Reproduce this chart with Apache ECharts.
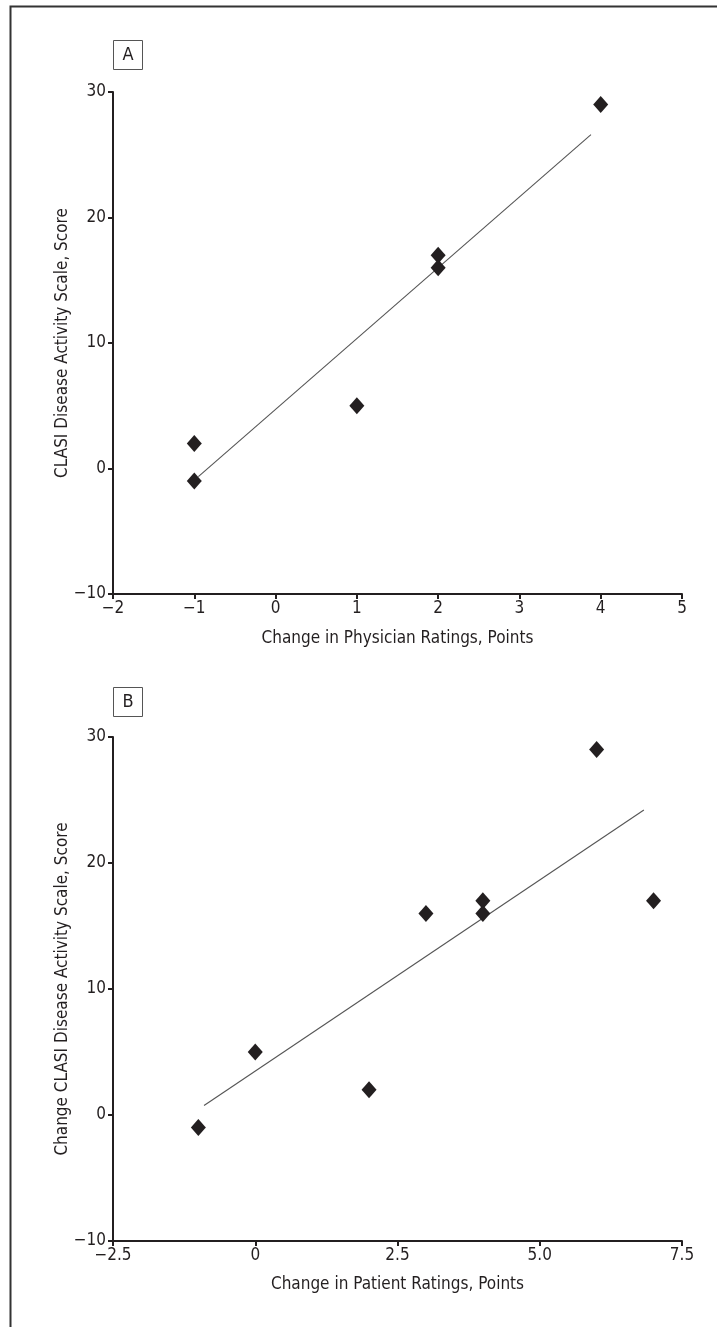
<!DOCTYPE html>
<html>
<head>
<meta charset="utf-8">
<script src="https://cdn.jsdelivr.net/npm/echarts@6/dist/echarts.min.js"></script>
<style>
  html, body { margin: 0; padding: 0; background: #fff; }
  #chart { width: 717px; height: 1327px; }
</style>
</head>
<body>
<div id="chart"></div>
<script>
// panel A: physician ratings vs CLASI
var physicianChange = [-1, -1, 1, 2, 2, 4];
var clasiA = [2, -1, 5, 17, 16, 29];
var fitA = [[-0.95, -0.65], [3.88, 26.6]];
var xTicksA = ['\u22122', '\u22121', '0', '1', '2', '3', '4', '5'];

// panel B: patient ratings vs CLASI change
var patientChange = [-1, 0, 2, 3, 4, 4, 6, 7];
var clasiB = [-1, 5, 2, 16, 17, 16, 29, 17];
var fitB = [[-0.9, 0.75], [6.83, 24.2]];
var xTicksB = ['\u22122.5', '0', '2.5', '5.0', '7.5'];

var yTicks = ['\u221210', '0', '10', '20', '30'];

(function(){
  var c = echarts.init(document.getElementById('chart'));
  var ink = '#231f20';
  var font = "'Liberation Sans Narrow', 'DejaVu Sans Condensed', 'Roboto Condensed', sans-serif";

  function pairs(xs, ys){ return xs.map(function(x, i){ return [x, ys[i]]; }); }

  function xAxis(idx, min, max, step, labels, name, gap){
    return {
      type: 'value', gridIndex: idx, min: min, max: max, interval: step,
      name: name, nameLocation: 'middle', nameGap: gap, nameMoveOverlap: false,
      nameTextStyle: {color: ink, fontFamily: font, fontSize: 17},
      axisLine: {show: true, onZero: false, lineStyle: {color: ink, width: 2}},
      axisTick: {show: true, length: 5, lineStyle: {color: ink, width: 2}},
      axisLabel: {color: ink, fontFamily: font, fontSize: 17, margin: 6,
        formatter: function(v){ return labels[Math.round((v - min) / step)]; }},
      splitLine: {show: false}
    };
  }
  function yAxis(idx, name){
    return {
      type: 'value', gridIndex: idx, min: -10, max: 30, interval: 10,
      name: name, nameLocation: 'middle', nameGap: 42, nameMoveOverlap: false,
      nameTextStyle: {color: ink, fontFamily: font, fontSize: 17},
      axisLine: {show: true, onZero: false, lineStyle: {color: ink, width: 2}},
      axisTick: {show: true, length: 5, lineStyle: {color: ink, width: 2}},
      axisLabel: {color: ink, fontFamily: font, fontSize: 17, margin: 7,
        formatter: function(v){ return yTicks[Math.round((v + 10) / 10)]; }},
      splitLine: {show: false}
    };
  }
  function dots(idx, data){
    return {type: 'scatter', xAxisIndex: idx, yAxisIndex: idx, data: data,
      symbol: 'diamond', symbolSize: [15, 17],
      itemStyle: {color: ink, opacity: 1}, silent: true, z: 3};
  }
  function fit(idx, data){
    return {type: 'line', xAxisIndex: idx, yAxisIndex: idx, data: data,
      symbol: 'none', lineStyle: {color: '#555', width: 1.1}, silent: true, z: 2};
  }
  function tag(letter, top){
    return {type: 'group', left: 113, top: top, children: [
      {type: 'rect', shape: {x: 0, y: 0, width: 29, height: 29},
        style: {fill: '#fff', stroke: '#555', lineWidth: 1}},
      {type: 'text', x: 14.5, y: 15, style: {text: letter, fill: ink,
        font: '18px ' + font, textAlign: 'center', textVerticalAlign: 'middle'}}
    ]};
  }

  c.setOption({
    animation: false,
    grid: [
      {left: 113, right: 35, top: 92, height: 502},
      {left: 113, right: 35, top: 737, height: 504}
    ],
    xAxis: [
      xAxis(0, -2, 5, 1, xTicksA, 'Change in Physician Ratings, Points', 36),
      xAxis(1, -2.5, 7.5, 2.5, xTicksB, 'Change in Patient Ratings, Points', 35)
    ],
    yAxis: [
      yAxis(0, 'CLASI Disease Activity Scale, Score'),
      yAxis(1, 'Change CLASI Disease Activity Scale, Score')
    ],
    series: [
      fit(0, fitA), dots(0, pairs(physicianChange, clasiA)),
      fit(1, fitB), dots(1, pairs(patientChange, clasiB))
    ],
    graphic: [
      {type: 'rect', left: 8, top: 4, shape: {x: 0, y: 0, width: 760, height: 1400},
        style: {fill: 'none', stroke: '#333', lineWidth: 2}},
      tag('A', 40),
      tag('B', 687)
    ]
  });
  window.addEventListener('resize', function(){ c.resize(); });
})();
</script>
</body>
</html>
